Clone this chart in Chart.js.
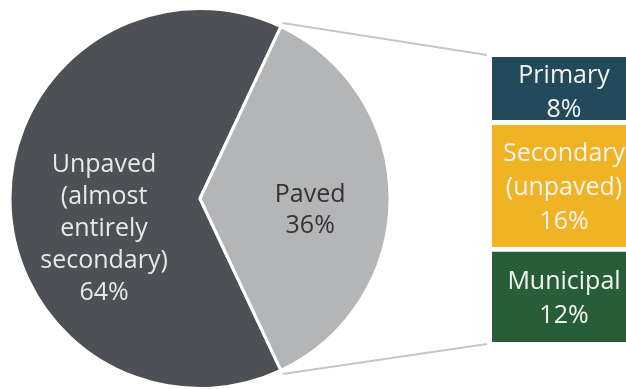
<!DOCTYPE html>
<html>
<head>
<meta charset="utf-8">
<script src="https://cdn.jsdelivr.net/npm/chart.js@4.4.1/dist/chart.umd.min.js"></script>
<style>
  html, body { margin: 0; padding: 0; background: #fff; overflow: hidden; }
  #wrap { position: relative; width: 626px; height: 389px; overflow: hidden; }
  #pieChart { position: absolute; left: 0; top: 0; }
  #barChart { position: absolute; left: 492px; top: 0; }
</style>
</head>
<body>
<div id="wrap">
  <canvas id="pieChart" width="626" height="389"></canvas>
  <canvas id="barChart" width="144" height="389"></canvas>
</div>
<script>
// pie: all roads
var pieLabels = ['Unpaved (almost entirely secondary)', 'Paved'];
var pieValues = [64, 36];
var pieColors = ['#4d5054', '#b4b5b7'];
var pieTextLines = [['Unpaved', '(almost', 'entirely', 'secondary)'], ['Paved']];

// bar: breakdown of the paved part, top to bottom
var barLabels = ['Primary', 'Secondary (unpaved)', 'Municipal'];
var barValues = [8, 16, 12];
var barColors = ['#224a5a', '#f0b323', '#285e37'];
var barTextLines = [['Primary'], ['Secondary', '(unpaved)'], ['Municipal']];

var FONT = '25px "Open Sans", "Noto Sans", sans-serif';
var CAP_MID = 9; // half cap height, to centre text on its caps

function drawLines(ctx, lines, cx, cy, lh) {
  lines.forEach(function(t, k) {
    ctx.fillText(t, cx, cy + (k - (lines.length - 1) / 2) * lh + CAP_MID);
  });
}

// ---- stacked column on the right ----
var barDatasets = [];
for (var i = barValues.length - 1; i >= 0; i--) {
  barDatasets.push({
    label: barLabels[i],
    data: [barValues[i]],
    textLines: barTextLines[i],
    backgroundColor: barColors[i],
    borderColor: '#fff',
    borderWidth: i === 0 ? 0 : { top: 5, bottom: 0, left: 0, right: 0 },
    borderSkipped: false,
    barPercentage: 1,
    categoryPercentage: 1
  });
}

var barText = {
  id: 'barText',
  afterDatasetsDraw(chart) {
    var ctx = chart.ctx;
    ctx.save();
    ctx.font = FONT;
    ctx.fillStyle = '#f4f4f4';
    ctx.textAlign = 'center';
    ctx.textBaseline = 'alphabetic';
    chart.data.datasets.forEach(function(ds, i) {
      var el = chart.getDatasetMeta(i).data[0];
      var mid = (el.y + el.base) / 2 + 2;
      drawLines(ctx, ds.textLines.concat(ds.data[0] + '%'), el.x, mid, 34);
    });
    ctx.restore();
  }
};

var barChart = new Chart(document.getElementById('barChart'), {
  type: 'bar',
  data: { labels: ['Paved'], datasets: barDatasets },
  options: {
    responsive: false,
    animation: false,
    events: [],
    layout: { padding: { top: 57, bottom: 47, left: 0, right: 0 } },
    plugins: { legend: { display: false }, tooltip: { enabled: false } },
    scales: {
      x: { display: false, stacked: true },
      y: { display: false, stacked: true, min: 0, max: barValues.reduce((a, b) => a + b, 0) }
    }
  },
  plugins: [barText]
});

// ---- pie on the left, with labels and connector lines ----
var pieTotal = pieValues.reduce((a, b) => a + b, 0);

var pieExtras = {
  id: 'pieExtras',
  afterDatasetsDraw(chart, args, opts) {
    var ctx = chart.ctx;
    var meta = chart.getDatasetMeta(0);
    ctx.save();
    ctx.font = FONT;
    ctx.textAlign = 'center';
    ctx.textBaseline = 'alphabetic';
    meta.data.forEach(function(arc, i) {
      var p = opts.labels[i];
      var mid = (arc.startAngle + arc.endAngle) / 2;
      var cx = arc.x + Math.cos(mid) * arc.outerRadius * p.r;
      var cy = arc.y + Math.sin(mid) * arc.outerRadius * p.r + p.dy;
      ctx.fillStyle = p.color;
      drawLines(ctx, pieTextLines[i].concat(pieValues[i] + '%'), cx, cy, p.lh);
    });

    // connectors from the paved slice to the column
    var paved = meta.data[1];
    var n = barChart.data.datasets.length;
    var topEl = barChart.getDatasetMeta(n - 1).data[0];
    var botEl = barChart.getDatasetMeta(0).data[0];
    var offX = barChart.canvas.offsetLeft;
    var left = offX + topEl.x - topEl.width / 2;
    var r = paved.outerRadius + 4;
    ctx.strokeStyle = '#c6c6ca';
    ctx.lineWidth = 2;
    ctx.beginPath();
    ctx.moveTo(paved.x + Math.cos(paved.startAngle) * r, paved.y + Math.sin(paved.startAngle) * r);
    ctx.lineTo(left - 5, topEl.y - 2);
    ctx.moveTo(paved.x + Math.cos(paved.endAngle) * r, paved.y + Math.sin(paved.endAngle) * r);
    ctx.lineTo(left - 5, botEl.base + 2);
    ctx.stroke();
    ctx.restore();
  }
};

new Chart(document.getElementById('pieChart'), {
  type: 'pie',
  data: {
    labels: pieLabels,
    datasets: [{
      data: pieValues,
      backgroundColor: pieColors,
      borderColor: '#fff',
      borderWidth: 3
    }]
  },
  options: {
    responsive: false,
    animation: false,
    events: [],
    radius: 190,
    rotation: 90 + pieValues[1] / pieTotal * 180,
    layout: { padding: { top: 8, right: 226, left: 0, bottom: 0 } },
    plugins: {
      legend: { display: false },
      tooltip: { enabled: false },
      pieExtras: {
        labels: [
          { r: 0.505, dy: 28, lh: 32, color: '#e8e8e8' },
          { r: 0.58, dy: 10, lh: 31, color: '#333333' }
        ]
      }
    }
  },
  plugins: [pieExtras]
});
</script>
</body>
</html>
